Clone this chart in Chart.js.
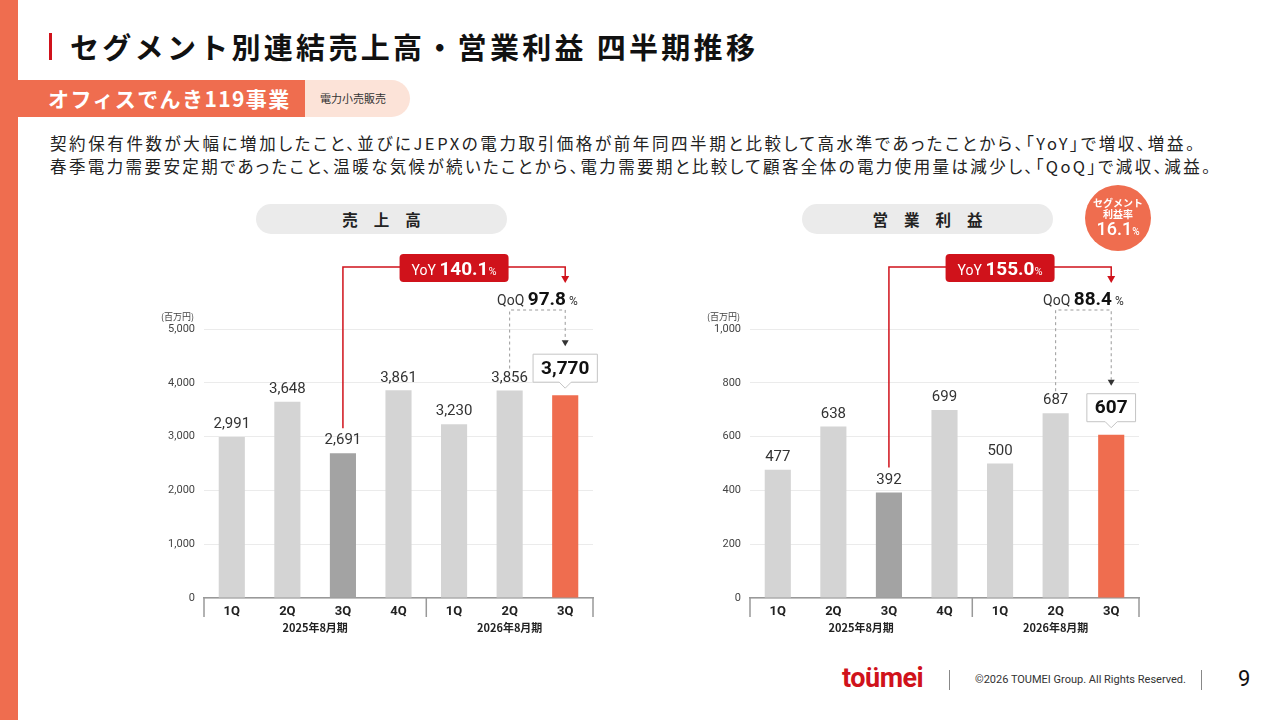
<!DOCTYPE html>
<html lang="ja">
<head>
<meta charset="utf-8">
<script src="https://cdn.jsdelivr.net/npm/chart.js@4"></script>
<style>
  html, body { margin: 0; padding: 0; }
  body { width: 1280px; height: 720px; position: relative; overflow: hidden; background: #fff;
         font-family: "Noto Sans CJK JP", "Noto Sans", sans-serif; color: #222; }
  .abs { position: absolute; white-space: nowrap; }
  #strip { left: 0; top: 0; width: 18px; height: 720px; background: #EF6D4F; }
  #titleBar { left: 49px; top: 33px; width: 3px; height: 27px; background: #D0121B; }
  #title { left: 70px; top: 26px; font-size: 29px; font-weight: 700; letter-spacing: 3.3px; line-height: 40px; color: #111; }
  #pill { left: 280px; top: 80px; width: 130px; height: 37px; background: #FCE3D8; border-radius: 0 19px 19px 0; }
  #pillText { left: 320px; top: 80px; line-height: 37px; font-size: 11px; color: #333; }
  #seg { left: 18px; top: 80px; width: 287px; height: 37px; background: #EF6D4F; }
  #segText { left: 48px; top: 80px; line-height: 37px; font-size: 21px; font-weight: 700; color: #fff; letter-spacing: 1.4px; }
  .body { left: 50px; font-size: 16.5px; letter-spacing: 2.6px; color: #222; line-height: 22px;
          font-feature-settings: "palt"; }
  .head { height: 30px; width: 251px; border-radius: 15px; background: #EBEBEB; top: 204px; box-sizing: border-box;
          padding-left: 16px; text-align: center; line-height: 30px; font-size: 15.5px; font-weight: 700;
          letter-spacing: 16px; color: #222; }
  #badge { left: 1085px; top: 185px; width: 66px; height: 66px; border-radius: 50%; background: #EF6D4F; color: #fff;
           text-align: center; z-index: 5; }
  canvas { position: absolute; }
  .foot { font-family: Roboto, "Noto Sans", sans-serif; }
  .vline { width: 1px; height: 20px; background: #888; top: 670px; }
</style>
</head>
<body>
<div id="strip" class="abs"></div>
<div id="titleBar" class="abs"></div>
<div id="title" class="abs">セグメント別連結売上高・営業利益 四半期推移</div>
<div id="pill" class="abs"></div>
<div id="seg" class="abs"></div>
<div id="segText" class="abs">オフィスでんき119事業</div>
<div id="pillText" class="abs">電力小売販売</div>
<div class="abs body" style="top:132px">契約保有件数が大幅に増加したこと、並びにJEPXの電力取引価格が前年同四半期と比較して高水準であったことから、「YoY」で増収、増益。</div>
<div class="abs body" style="top:155px;letter-spacing:2.4px">春季電力需要安定期であったこと、温暖な気候が続いたことから、電力需要期と比較して顧客全体の電力使用量は減少し、「QoQ」で減収、減益。</div>
<div class="abs head" style="left:256px">売上高</div>
<div class="abs head" style="left:802px">営業利益</div>
<div id="badge" class="abs">
  <div style="font-size:10px;font-weight:700;line-height:11px;margin-top:12px">セグメント</div>
  <div style="font-size:10px;font-weight:700;line-height:11px">利益率</div>
  <div style="font-family:Roboto,sans-serif;font-size:18px;line-height:20px;font-weight:500">16.1<span style="font-size:10px">%</span></div>
</div>

<canvas id="salesChart" style="left:100px;top:240px" width="520" height="400"></canvas>
<canvas id="profitChart" style="left:646px;top:240px" width="520" height="400"></canvas>

<div class="abs foot" style="left:842px;top:662px;font-size:27px;font-weight:700;color:#D0121B;letter-spacing:-0.5px">toümei</div>
<div class="abs vline" style="left:949px"></div>
<div class="abs foot" style="left:975px;top:673px;font-size:11px;color:#333">©2026 TOUMEI Group. All Rights Reserved.</div>
<div class="abs vline" style="left:1201px"></div>
<div class="abs foot" style="left:1238px;top:666px;font-size:22px;color:#111">9</div>

<script>
const quarters = ['1Q', '2Q', '3Q', '4Q', '1Q', '2Q', '3Q'];
const fiscalYears = ['2025年8月期', '2026年8月期'];
const salesValues = [2991, 3648, 2691, 3861, 3230, 3856, 3770];
const profitValues = [477, 638, 392, 699, 500, 687, 607];
const salesAxis = { max: 5000, step: 1000 };
const profitAxis = { max: 1000, step: 200 };
const salesYoY = '140.1';
const salesQoQ = '97.8';
const profitYoY = '155.0';
const profitQoQ = '88.4';

const RED = '#D0121B';
const ORANGE = '#EF6D4F';
const NUM = 'Roboto, "Noto Sans", sans-serif';
const JP = '"Noto Sans CJK JP", sans-serif';

function barColors(n) {
  return quarters.map((q, i) => i === n - 1 ? ORANGE : (i === 2 ? '#A3A3A3' : '#D4D4D4'));
}

// draws a row of text pieces centred on cx
function drawParts(ctx, parts, cx, y) {
  let total = 0;
  parts.forEach(p => { ctx.font = p.font; total += ctx.measureText(p.text).width; });
  let x = cx - total / 2;
  ctx.textAlign = 'left';
  parts.forEach(p => {
    ctx.font = p.font;
    ctx.fillStyle = p.color;
    ctx.fillText(p.text, x, y);
    x += ctx.measureText(p.text).width;
  });
  return total;
}

function makeDecor(values, yoy, qoq) {
  return {
    id: 'decor',
    afterDatasetsDraw(chart) {
      const ctx = chart.ctx;
      const bars = chart.getDatasetMeta(0).data;
      const area = chart.chartArea;
      const xs = chart.scales.x;
      const last = bars.length - 1;
      ctx.save();

      // value labels
      ctx.textAlign = 'center';
      ctx.textBaseline = 'bottom';
      bars.forEach((b, i) => {
        const txt = values[i].toLocaleString('en-US');
        if (i !== last) {
          ctx.font = '15px ' + NUM;
          ctx.fillStyle = '#333';
          ctx.fillText(txt, b.x, b.y - 5);
        }
      });
      const b6 = bars[last];
      const lastTxt = values[last].toLocaleString('en-US');
      ctx.font = 'bold 19px ' + NUM;
      const bw = ctx.measureText(lastTxt).width + 16;
      const bh = 28;
      const bBot = b6.y - 13;
      const bTop = bBot - bh;
      ctx.beginPath();
      ctx.moveTo(b6.x - bw / 2, bTop);
      ctx.lineTo(b6.x + bw / 2, bTop);
      ctx.lineTo(b6.x + bw / 2, bBot);
      ctx.lineTo(b6.x + 6, bBot);
      ctx.lineTo(b6.x, bBot + 6);
      ctx.lineTo(b6.x - 6, bBot);
      ctx.lineTo(b6.x - bw / 2, bBot);
      ctx.closePath();
      ctx.fillStyle = '#fff';
      ctx.fill();
      ctx.strokeStyle = '#C4C4C4';
      ctx.lineWidth = 1;
      ctx.stroke();
      ctx.fillStyle = '#111';
      ctx.textBaseline = 'middle';
      ctx.textAlign = 'center';
      ctx.fillText(lastTxt, b6.x, bTop + bh / 2 + 1);

      // YoY connector
      const top = area.top - 62;
      const xa = bars[2].x;
      const xb = b6.x;
      ctx.strokeStyle = RED;
      ctx.lineWidth = 1.5;
      ctx.beginPath();
      ctx.moveTo(xa, bars[2].y - 25);
      ctx.lineTo(xa, top);
      ctx.lineTo(xb, top);
      ctx.lineTo(xb, top + 10);
      ctx.stroke();
      ctx.fillStyle = RED;
      ctx.beginPath();
      ctx.moveTo(xb - 4, top + 9);
      ctx.lineTo(xb + 4, top + 9);
      ctx.lineTo(xb, top + 16);
      ctx.fill();

      const yoyParts = [
        { text: 'YoY ', font: '14px ' + NUM, color: '#fff' },
        { text: yoy, font: 'bold 19px ' + NUM, color: '#fff' },
        { text: '%', font: '11px ' + NUM, color: '#fff' }
      ];
      let w = 0;
      yoyParts.forEach(p => { ctx.font = p.font; w += ctx.measureText(p.text).width; });
      const cx = (xa + xb) / 2;
      ctx.fillStyle = RED;
      ctx.beginPath();
      ctx.roundRect(cx - w / 2 - 12, top - 13, w + 24, 28, 4);
      ctx.fill();
      ctx.textBaseline = 'alphabetic';
      drawParts(ctx, yoyParts, cx, top + 8);

      // QoQ connector
      const x5 = bars[5].x;
      const yh = top + 43;
      ctx.strokeStyle = '#999';
      ctx.lineWidth = 1;
      ctx.setLineDash([3, 3]);
      ctx.beginPath();
      ctx.moveTo(x5, bars[5].y - 22);
      ctx.lineTo(x5, yh);
      ctx.lineTo(xb, yh);
      ctx.lineTo(xb, bTop - 14);
      ctx.stroke();
      ctx.setLineDash([]);
      ctx.fillStyle = '#333';
      ctx.beginPath();
      ctx.moveTo(xb - 3.5, bTop - 14);
      ctx.lineTo(xb + 3.5, bTop - 14);
      ctx.lineTo(xb, bTop - 8);
      ctx.fill();
      drawParts(ctx, [
        { text: 'QoQ ', font: '14px ' + NUM, color: '#333' },
        { text: qoq, font: 'bold 19px ' + NUM, color: '#111' },
        { text: ' %', font: '12px ' + NUM, color: '#333' }
      ], (x5 + xb) / 2, top + 38);

      // unit label
      ctx.font = '9px ' + JP;
      ctx.fillStyle = '#444';
      ctx.textAlign = 'right';
      ctx.textBaseline = 'middle';
      ctx.fillText('(百万円)', area.left - 10, area.top - 12);

      // axis group ticks and fiscal year labels
      const step = (area.right - area.left) / quarters.length;
      ctx.strokeStyle = '#999';
      ctx.lineWidth = 1.5;
      [area.left, area.left + step * 4, area.right].forEach(x => {
        ctx.beginPath();
        ctx.moveTo(x, area.bottom);
        ctx.lineTo(x, area.bottom + 19);
        ctx.stroke();
      });
      ctx.font = 'bold 11px ' + JP;
      ctx.fillStyle = '#222';
      ctx.textAlign = 'center';
      ctx.fillText(fiscalYears[0], (xs.getPixelForValue(0) + xs.getPixelForValue(3)) / 2, area.bottom + 30);
      ctx.fillText(fiscalYears[1], (xs.getPixelForValue(4) + xs.getPixelForValue(6)) / 2, area.bottom + 30);
      ctx.restore();
    }
  };
}

function buildChart(id, values, axis, yoy, qoq) {
  const ctx = document.getElementById(id);
  return new Chart(ctx, {
    type: 'bar',
    data: {
      labels: quarters,
      datasets: [{
        data: values,
        backgroundColor: barColors(values.length),
        barPercentage: 0.47,
        categoryPercentage: 1
      }]
    },
    options: {
      responsive: false,
      animation: false,
      layout: { padding: { top: 89, right: 27, bottom: 0, left: 0 } },
      plugins: { legend: { display: false }, tooltip: { enabled: false } },
      scales: {
        x: {
          grid: { display: false, drawTicks: false },
          border: { display: true, color: '#999', width: 1.5 },
          ticks: { color: '#222', font: { family: NUM, size: 13, weight: 'bold' }, padding: 6, autoSkip: false, maxRotation: 0 },
          afterFit(scale) { scale.height = 42; }
        },
        y: {
          min: 0,
          max: axis.max,
          grid: { color: '#EBEBEB', drawTicks: false },
          border: { display: false },
          ticks: {
            stepSize: axis.step,
            color: '#444',
            padding: 9,
            font: { family: NUM, size: 11 },
            callback: v => v.toLocaleString('en-US')
          },
          afterFit(scale) { scale.width = 104; }
        }
      }
    },
    plugins: [makeDecor(values, yoy, qoq)]
  });
}

buildChart('salesChart', salesValues, salesAxis, salesYoY, salesQoQ);
buildChart('profitChart', profitValues, profitAxis, profitYoY, profitQoQ);
</script>
</body>
</html>
